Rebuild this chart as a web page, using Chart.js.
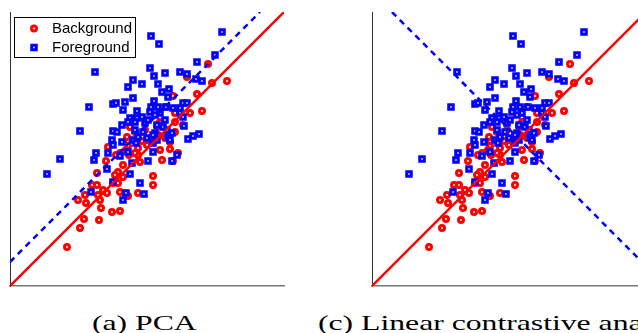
<!DOCTYPE html>
<html><head><meta charset="utf-8">
<script src="https://cdn.jsdelivr.net/npm/chart.js@4/dist/chart.umd.min.js"></script>
<style>
html,body{margin:0;padding:0;background:#fff;width:638px;height:333px;overflow:hidden;position:relative;}
.panel{position:absolute;top:0;width:300px;height:300px;}
.cap{position:absolute;top:312px;font-family:'Liberation Serif',serif;font-size:22px;line-height:22px;white-space:nowrap;transform-origin:0 0;transform:scaleX(1.44);color:#000;}
</style></head>
<body>
<div class="panel" style="left:0"><canvas id="c1" width="300" height="300"></canvas></div>
<div class="panel" style="left:362px"><canvas id="c2" width="300" height="300"></canvas></div>
<div class="cap" style="left:92px">(a) PCA</div>
<div class="cap" style="left:318px">(c) Linear contrastive analysis</div>
<script>
// Background (red circles)
const bgX = [198,217,202,177,163,187,192,180,165,155,165,147,173,120,125,165,148,155,118,132,143,160,117,118,128,150,160,168,152,163,110,128,130,113,96,108,105,113,87,103,108,143,143,82,87,93,128,110,118,75,88,97,68,90,76,91,102,110,74,89,70,57,106,116,119,125,137,98,135,150];
const bgY = [222,205,203,209,190,192,175,173,173,179,164,160,161,159,154,154,151,148,145,145,145,144,149,140,138,136,137,133,126,125,133,131,124,121,125,114,111,109,113,103,103,110,101,101,101,96,93,94,90,91,91,93,86,86,83,78,74,75,67,66,58,39,131,136,131,133,141,139,156,164];
// Foreground (blue squares)
const fgX = [141,212,149,205,187,140,85,144,155,170,177,186,192,123,132,118,148,152,159,158,123,79,103,106,115,113,127,144,141,148,156,163,170,173,177,170,140,145,150,132,127,120,118,125,135,138,155,147,153,157,112,103,107,125,133,145,128,137,143,158,173,174,70,102,112,123,147,178,183,189,103,126,143,160,162,86,84,98,110,118,122,143,138,162,167,97,120,103,130,116,134,113,81,50,37];
const fgY = [250,254,242,231,224,218,214,210,213,214,212,207,205,206,202,199,202,194,197,189,188,179,182,183,184,176,175,185,179,179,179,178,178,183,183,173,174,171,173,169,168,168,164,164,163,166,166,161,159,156,161,155,154,156,154,153,149,148,151,149,169,160,155,146,144,146,146,147,150,152,141,143,143,146,153,133,126,133,130,134,123,134,125,125,131,117,112,104,103,93,92,86,94,127,112];
// Direction lines (start/end points)
const pcaBgLineX = [0,274], pcaBgLineY = [0,274];
const pcaFgLineX = [0,250], pcaFgLineY = [24,274];
const lcaBgLineX = [0,274], lcaBgLineY = [0,274];
const lcaFgLineX = [20,274], lcaFgLineY = [274,20];
const seriesLabels = ['Background','Foreground'];
const axisMin = 0, axisMax = 274;

const RED = '#ff0000', BLUE = '#0000ff';
const pts = (xs, ys) => xs.map((x, i) => ({x: x, y: ys[i]}));

const boxLegend = {
  id: 'boxLegend',
  afterDraw(chart, args, opts) {
    if (!opts.show) return;
    const ctx = chart.ctx, a = chart.chartArea;
    const L = a.left + 4.5, T = a.top + 5.5, W = 121, H = 40;
    ctx.save();
    ctx.fillStyle = '#fff';
    ctx.fillRect(L, T, W, H);
    ctx.strokeStyle = '#000';
    ctx.lineWidth = 1;
    ctx.strokeRect(L, T, W, H);
    const mx = L + 19.5;
    // background marker
    ctx.beginPath();
    ctx.arc(mx, T + 11, 2.5, 0, Math.PI * 2);
    ctx.fillStyle = '#fff'; ctx.fill();
    ctx.lineWidth = 3; ctx.strokeStyle = RED; ctx.stroke();
    // foreground marker
    ctx.beginPath();
    ctx.rect(mx - 2.25, T + 30 - 2.25, 4.5, 4.5);
    ctx.fillStyle = '#fff'; ctx.fill();
    ctx.lineWidth = 3; ctx.strokeStyle = BLUE; ctx.stroke();
    ctx.fillStyle = '#000';
    ctx.font = '15px "Liberation Sans", Arial, sans-serif';
    ctx.textBaseline = 'middle';
    ctx.textAlign = 'left';
    ctx.fillText(seriesLabels[0], L + 37.5, T + 11.5);
    ctx.fillText(seriesLabels[1], L + 37.5, T + 30.5);
    ctx.restore();
  }
};

function makeChart(id, bgLine, fgLine, showLegend) {
  return new Chart(document.getElementById(id), {
    type: 'scatter',
    data: {
      datasets: [
        {label: 'bgdir', data: bgLine, showLine: true, pointRadius: 0, borderColor: RED, borderWidth: 2.5, fill: false},
        {label: 'fgdir', data: fgLine, showLine: true, pointRadius: 0, borderColor: BLUE, borderWidth: 2.5, borderDash: [6, 5], fill: false},
        {label: seriesLabels[1], data: pts(fgX, fgY), pointStyle: 'rect', pointRadius: 3.2, pointBorderWidth: 3, pointBorderColor: BLUE, pointBackgroundColor: '#fff', showLine: false},
        {label: seriesLabels[0], data: pts(bgX, bgY), pointStyle: 'circle', pointRadius: 2.5, pointBorderWidth: 3, pointBorderColor: RED, pointBackgroundColor: '#fff', showLine: false}
      ]
    },
    options: {
      responsive: false,
      animation: false,
      events: [],
      layout: {padding: {left: 10, top: 12, right: 16, bottom: 14}},
      scales: {
        x: {type: 'linear', min: axisMin, max: axisMax, grid: {display: false, drawTicks: false}, ticks: {display: false}, border: {display: true, color: '#777', width: 1.5}},
        y: {type: 'linear', min: axisMin, max: axisMax, grid: {display: false, drawTicks: false}, ticks: {display: false}, border: {display: true, color: '#333', width: 1}}
      },
      plugins: {legend: {display: false}, tooltip: {enabled: false}, title: {display: false}, boxLegend: {show: showLegend}}
    },
    plugins: [boxLegend]
  });
}
makeChart('c1', pts(pcaBgLineX, pcaBgLineY), pts(pcaFgLineX, pcaFgLineY), true);
makeChart('c2', pts(lcaBgLineX, lcaBgLineY), pts(lcaFgLineX, lcaFgLineY), false);
</script>
</body></html>
